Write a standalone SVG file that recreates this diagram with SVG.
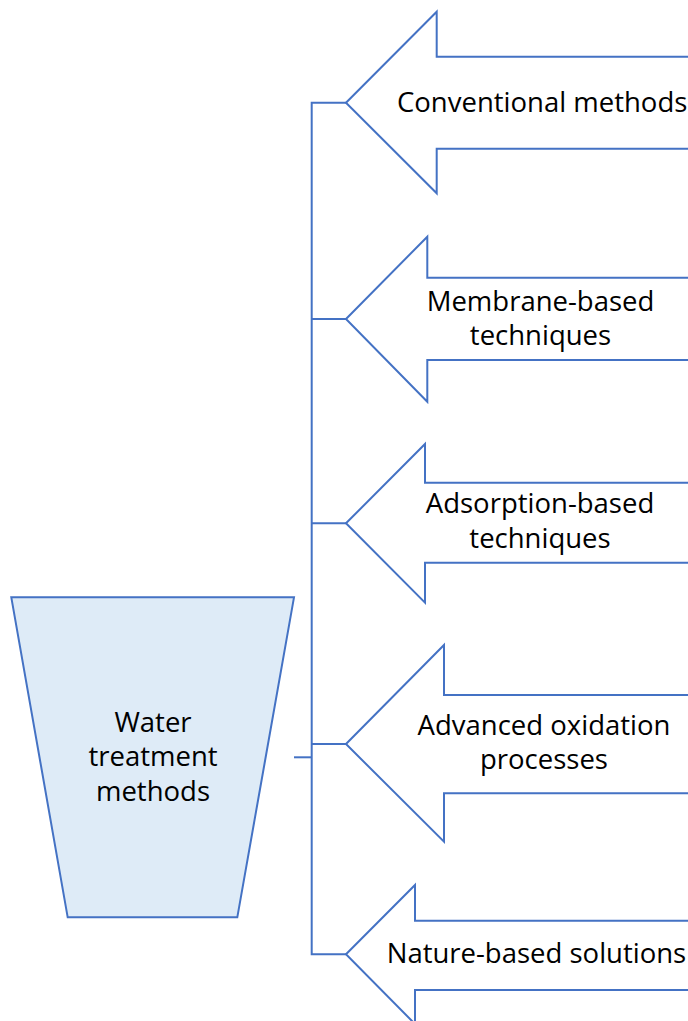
<svg xmlns="http://www.w3.org/2000/svg" width="688" height="1021" viewBox="0 0 688 1021">
<style>
.shape{fill:#ffffff;stroke:#4472C4;stroke-width:2;stroke-linejoin:miter}
.root{fill:#DEEBF7;stroke:#4472C4;stroke-width:2}
.conn{fill:none;stroke:#4472C4;stroke-width:2}
.lbl{font-family:"Open Sans",Lato,sans-serif;font-size:27.5px;fill:#000000}
.mid{text-anchor:middle}
</style>
<rect x="0" y="0" width="688" height="1021" fill="#ffffff"/>
<g id="connectors">
<path class="conn" d="M346,102.7 H311.7 V954.3 H346"/>
<path class="conn" d="M311.7,319 H346"/>
<path class="conn" d="M311.7,523.3 H346"/>
<path class="conn" d="M311.7,744 H346"/>
<path class="conn" d="M294,757.3 H311.7"/>
</g>
<g id="root">
<polygon class="root" points="11.3,597.3 294,597.3 237.3,917.3 67.7,917.3"/>
<text class="lbl mid" x="153" y="731.7">Water</text>
<text class="lbl mid" x="153" y="766">treatment</text>
<text class="lbl mid" x="153" y="800.5">methods</text>
</g>
<g id="conventional">
<polygon class="shape" points="346,102.7 436.7,11.7 436.7,56.7 700,56.7 700,148.7 436.7,148.7 436.7,193.3"/>
<text class="lbl" x="397" y="111.7">Conventional methods</text>
</g>
<g id="membrane">
<polygon class="shape" points="346,319 427.3,236.7 427.3,277.7 700,277.7 700,360 427.3,360 427.3,401.7"/>
<text class="lbl mid" x="540.5" y="311">Membrane-based</text>
<text class="lbl mid" x="540.5" y="345">techniques</text>
</g>
<g id="adsorption">
<polygon class="shape" points="346,523.3 425,444 425,482.7 700,482.7 700,562.7 425,562.7 425,602.7"/>
<text class="lbl mid" x="540" y="513.3">Adsorption-based</text>
<text class="lbl mid" x="540" y="548.3">techniques</text>
</g>
<g id="aop">
<polygon class="shape" points="346,744 444,645 444,695 700,695 700,793.3 444,793.3 444,841.7"/>
<text class="lbl mid" x="544" y="735">Advanced oxidation</text>
<text class="lbl mid" x="544" y="768.5">processes</text>
</g>
<g id="nature">
<polygon class="shape" points="346,954.3 415,885 415,920.7 700,920.7 700,990 415,990 415,1024"/>
<text class="lbl" x="386.7" y="962.7">Nature-based solutions</text>
</g>
</svg>
